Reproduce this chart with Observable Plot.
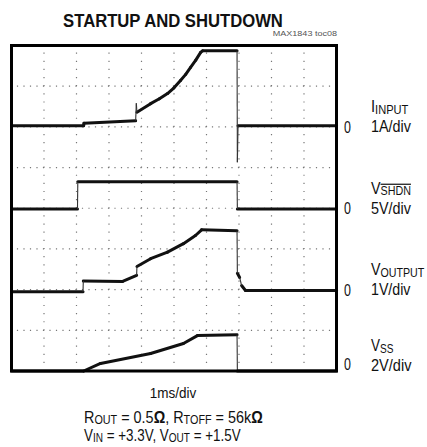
<!DOCTYPE html>
<html><head><meta charset="utf-8">
<script src="https://cdn.jsdelivr.net/npm/d3@7"></script>
<script src="https://cdn.jsdelivr.net/npm/@observablehq/plot@0.6"></script>
<style>
body{margin:0;background:#fff;}
#chart svg{display:block;}
</style></head><body><div id="chart"></div>
<script>
// ---- data ----
const titleText = "STARTUP AND SHUTDOWN";
const figureId = "MAX1843 toc08";
const timeDomain = [0, 10];           // ms (1ms/div)
const divDomain = [0, 8];             // vertical divisions
const xGridDivs = [1, 2, 3, 4, 5, 6, 7, 8, 9];
const yGridDivs = [1, 2, 3, 4, 5, 6, 7];

const channelKeys = ["iinput", "vshdn", "voutput", "vss"];
const channelZeroDiv = [6, 4, 2, 0];
const channelPerDiv = [1, 5, 1, 2];
const channelScaleLabels = ["1A/div", "5V/div", "1V/div", "2V/div"];

// I_INPUT (A)
const iInputT = [0, 2.22, 2.23, 3.82, 3.84, 3.86, 4.28, 4.55, 4.80, 5.00, 5.20, 5.36, 5.51, 5.67, 5.82, 5.88, 6.94, 6.95, 6.97, 10];
const iInputA = [0.03, 0.03, 0.09, 0.15, 0.58, 0.36, 0.57, 0.69, 0.82, 0.96, 1.14, 1.29, 1.46, 1.64, 1.83, 1.87, 1.87, -0.87, 0.03, 0.03];
// V_SHDN (V)
const vShdnT = [0, 2.03, 2.04, 6.94, 6.95, 10];
const vShdnV = [-0.1, -0.1, 3.25, 3.25, -0.1, -0.1];
// V_OUTPUT (V)
const vOutT = [0, 2.20, 2.21, 3.42, 3.85, 3.86, 4.28, 4.80, 5.29, 5.66, 5.85, 6.94, 6.95, 7.02, 7.08, 7.2, 10];
const vOutV = [-0.05, -0.05, 0.21, 0.20, 0.35, 0.57, 0.76, 0.92, 1.13, 1.33, 1.47, 1.45, 0.40, 0.30, 0.10, -0.02, -0.02];
// V_SS (V)
const vSsT = [0, 2.22, 2.74, 4.28, 5.29, 5.72, 6.94, 6.95, 10];
const vSsV = [0, 0, 0.37, 0.86, 1.35, 1.74, 1.78, 0, 0];

const traceTimes = [iInputT, vShdnT, vOutT, vSsT];
const traceValues = [iInputA, vShdnV, vOutV, vSsV];

// ---- build segments ----
const segments = [];
traceTimes.forEach((ts, c) => {
  const vs = traceValues[c];
  for (let i = 0; i < ts.length - 1; i++) {
    const y1 = channelZeroDiv[c] + vs[i] / channelPerDiv[c];
    const y2 = channelZeroDiv[c] + vs[i + 1] / channelPerDiv[c];
    const dt = Math.abs(ts[i + 1] - ts[i]);
    const fast = Math.abs(y2 - y1) > 0.1 && Math.abs(y2 - y1) > 3 * dt;
    segments.push({t1: ts[i], t2: ts[i + 1], y1, y2, fast});
  }
});
const zerosUpper = channelZeroDiv.slice(0, 3);
const zerosLower = channelZeroDiv.slice(3);

const FONT = '"Liberation Sans", Arial, sans-serif';

const plot = Plot.plot({
  width: 427, height: 447,
  marginTop: 45, marginBottom: 76.5, marginLeft: 11, marginRight: 91,
  style: {fontFamily: FONT, background: "#fff", color: "#111"},
  x: {domain: timeDomain, axis: null},
  y: {domain: divDomain, axis: null},
  marks: [
    Plot.ruleY(yGridDivs, {stroke: "#777", strokeWidth: 1.2, strokeDasharray: "1.2,5.3", strokeDashoffset: 0.6}),
    Plot.ruleX(xGridDivs, {stroke: "#777", strokeWidth: 1.2, strokeDasharray: "1.2,6.94", strokeDashoffset: 0.6}),
    Plot.link(segments.filter(d => !d.fast), {x1: "t1", y1: "y1", x2: "t2", y2: "y2", stroke: "#111", strokeWidth: 3, strokeLinecap: "round"}),
    Plot.link(segments.filter(d => d.fast), {x1: "t1", y1: "y1", x2: "t2", y2: "y2", stroke: "#333", strokeWidth: 1.1}),
    Plot.frame({stroke: "#000", strokeWidth: 3}),
    Plot.text(zerosUpper, {x: () => timeDomain[1], y: d => d, text: () => "0", dx: 11, dy: 1, fontSize: 16, textAnchor: "middle", fill: "#111", className: "zero-label"}),
    Plot.text(zerosLower, {x: () => timeDomain[1], y: d => d, text: () => "0", dx: 11, dy: -6, fontSize: 16, textAnchor: "middle", fill: "#111", className: "zero-label"})
  ]
});
document.getElementById("chart").appendChild(plot);

// ---- extra texts ----
const svg = d3.select(plot);
const yS = plot.scale("y");
const T = (x, y, size, anchor) => svg.append("text").attr("x", x).attr("y", y)
  .attr("font-size", size).attr("text-anchor", anchor || "start")
  .attr("font-family", FONT).attr("fill", "#111");
// condense a text horizontally (about its anchor x) to a target width
function fit(sel, target) {
  const node = sel.node();
  const w = node.getBBox().width;
  if (!w) return sel;
  const ax = +sel.attr("x");
  const k = target / w;
  sel.attr("transform", `translate(${ax},0) scale(${k},1) translate(${-ax},0)`);
  return sel;
}

fit(T(173, 27, 18, "middle").attr("font-weight", "bold").text(titleText), 220);
fit(T(337, 36, 8, "end").attr("fill", "#555").text(figureId), 65);

const nameParts = [["I", "INPUT", false], ["V", "SHDN", true], ["V", "OUTPUT", false], ["V", "SS", false]];
const nameWidths = [38, 40, 54, 22.5];
const scaleWidths = [40, 40, 39.5, 40.5];
nameParts.forEach(([big, sub, over], c) => {
  const z = yS.apply(channelZeroDiv[c]);
  const dz = c === 3 ? -5 : 0;
  const t = T(371, z - 14 + dz, 16);
  t.append("tspan").text(big);
  const s = t.append("tspan").attr("font-size", 12).attr("dy", 1.5).text(sub);
  if (over) s.attr("text-decoration", "overline");
  fit(t, nameWidths[c]);
  fit(T(371, z + 6 + dz, 16).text(channelScaleLabels[c]), scaleWidths[c]);
});

// condense the "0" labels (Plot positions each with its own translate)
svg.selectAll(".zero-label text").each(function () {
  const el = d3.select(this);
  const w = this.getBBox().width;
  const prev = el.attr("transform") || "";
  el.attr("transform", `${prev} scale(${7 / w},1)`);
});

fit(T(173, 398, 15, "middle").text("1ms/div"), 47);
const r = T(84, 423, 16);
r.append("tspan").text("R");
r.append("tspan").attr("font-size", 12).attr("dy", 1.5).text("OUT");
r.append("tspan").attr("dy", -1.5).text(" = 0.5");
r.append("tspan").attr("font-weight", "bold").text("Ω");
r.append("tspan").text(", R");
r.append("tspan").attr("font-size", 12).attr("dy", 1.5).text("TOFF");
r.append("tspan").attr("dy", -1.5).text(" = 56k");
r.append("tspan").attr("font-weight", "bold").text("Ω");
fit(r, 179);
const v = T(84, 441, 16);
v.append("tspan").text("V");
v.append("tspan").attr("font-size", 12).attr("dy", 1.5).text("IN");
v.append("tspan").attr("dy", -1.5).text(" = +3.3V, V");
v.append("tspan").attr("font-size", 12).attr("dy", 1.5).text("OUT");
v.append("tspan").attr("dy", -1.5).text(" = +1.5V");
fit(v, 157);
</script></body></html>
